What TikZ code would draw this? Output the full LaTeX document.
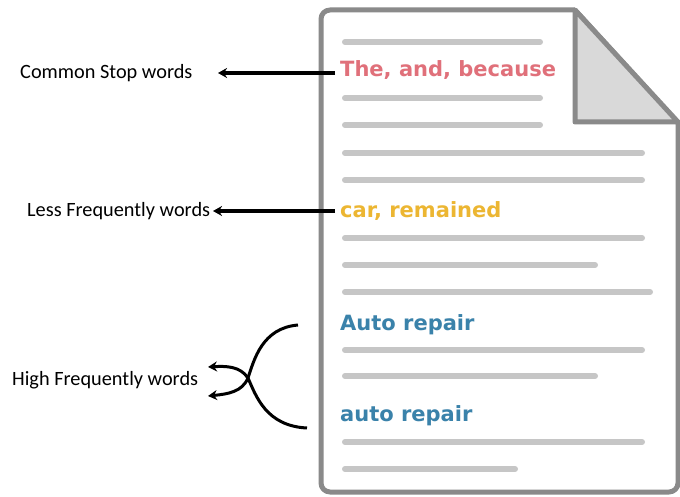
\documentclass[tikz,border=0pt]{standalone}
\usepackage{fontspec}
\setmainfont{Carlito}
\newfontfamily\docfont{DejaVu Sans}
\usetikzlibrary{arrows.meta}
\definecolor{outline}{RGB}{138,138,138}
\definecolor{foldfill}{RGB}{217,217,217}
\definecolor{placeholder}{RGB}{198,198,198}
\definecolor{stopred}{RGB}{224,112,122}
\definecolor{rareyellow}{RGB}{236,182,50}
\definecolor{freqblue}{RGB}{58,130,170}
\tikzset{
  pageline/.style={line width=5pt, draw=outline, line join=round},
  textbar/.style={line width=6pt, draw=placeholder, line cap=round},
  docword/.style={inner sep=0pt, anchor=base west, font=\docfont\bfseries\fontsize{21}{25}\selectfont},
  sidelabel/.style={inner sep=0pt, anchor=west, font=\fontsize{20.3}{24}\selectfont},
  pointer/.style={line width=3.2pt, -{Stealth[length=9pt,width=10pt]}},
  bracecurve/.style={line width=3pt, -{Stealth[length=9pt,width=10pt]}},
}
\begin{document}
\begin{tikzpicture}[x=1pt, y=-1pt]
\useasboundingbox (0,0) rectangle (680,497);
\fill[white] (0,0) rectangle (680,497);

% page outline with folded corner
\draw[pageline, rounded corners=9pt] (575,10) -- (321,10) -- (321,492) -- (678,492) -- (678,122);
\draw[pageline] (678,123) -- (575,10);
\draw[pageline, fill=foldfill] (575,10) -- (575,122) -- (678,122) -- cycle;

% placeholder text bars
\foreach \y/\xe in {42/540, 98/540, 125/540, 153/642, 180/642, 238/642, 265/595, 292/650, 350/642, 376/595, 442/642, 469/515}
  \draw[textbar] (345,\y) -- (\xe,\y);

% highlighted words inside the page
\node[docword, text=stopred] (stop) at (340,77) {The, and, because};
\node[docword, text=rareyellow] (rare) at (340,218) {car, remained};
\node[docword, text=freqblue] (freqA) at (340,330) {Auto repair};
\node[docword, text=freqblue] (freqB) at (340,421) {auto repair};

% labels on the left
\node[sidelabel] (lstop) at (20,73) {Common Stop words};
\node[sidelabel] (lrare) at (27,211) {Less Frequently words};
\node[sidelabel] (lfreq) at (12,380) {High Frequently words};

% arrows from the words to their labels
\coordinate (stopTail) at (335,73);
\coordinate (stopHead) at (218,73);
\coordinate (rareTail) at (335,211);
\coordinate (rareHead) at (213,211);
\draw[pointer] (stopTail) -- (stopHead);
\draw[pointer] (rareTail) -- (rareHead);

% crossed curves joining both repair entries to one label
\coordinate (upStart) at (298,325);
\coordinate (lowStart) at (307,428);
\coordinate (cross) at (248,378);
\coordinate (tipHigh) at (208,367);
\coordinate (tipLow) at (208,396);
\draw[bracecurve] (upStart) .. controls (262,328) and (254,360) .. (cross)
  .. controls (242,392) and (228,394) .. (tipLow);
\draw[bracecurve] (lowStart) .. controls (266,426) and (256,396) .. (cross)
  .. controls (240,366) and (226,366) .. (tipHigh);
\end{tikzpicture}
\end{document}
